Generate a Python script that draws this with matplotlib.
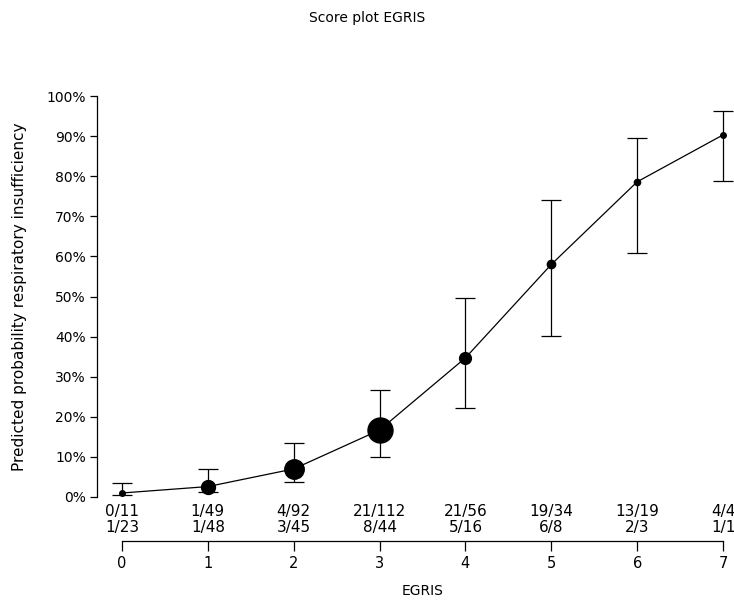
import numpy as np
import matplotlib
matplotlib.use("Agg")
from matplotlib import pyplot as plt

# Datos
egris = [0, 1, 2, 3, 4, 5, 6, 7]
prob = [0.010, 0.026, 0.070, 0.167, 0.347, 0.580, 0.786, 0.903]
ci_low = [0.004, 0.012, 0.037, 0.100, 0.222, 0.401, 0.608, 0.788]
ci_high = [0.035, 0.070, 0.135, 0.267, 0.496, 0.741, 0.895, 0.963]
cuentas_1 = ["0/11", "1/49", "4/92", "21/112", "21/56", "19/34", "13/19", "4/4"]
cuentas_2 = ["1/23", "1/48", "3/45", "8/44", "5/16", "6/8", "2/3", "1/1"]
tamanos = [4, 10, 14, 18, 8.5, 6, 4.5, 4]  # diametro del marcador (pt)

plt.rcParams['font.family'] = ['DejaVu Sans']
plt.rcParams['font.size'] = 10

fig = plt.figure(figsize=(7.34, 6.0), dpi=100)
W, H = 734, 600

# Ejes principales
ax = fig.add_axes([97 / W, (H - 497) / H, 633 / W, 401 / H])
x0 = -25 / 85.86
ax.set_xlim(x0, x0 + 633 / 85.86)
ax.set_ylim(0, 1)

err = [np.array(prob) - np.array(ci_low), np.array(ci_high) - np.array(prob)]
ax.errorbar(egris, prob, yerr=err, fmt='none', ecolor='black', elinewidth=0.9,
            capsize=7, capthick=0.9, clip_on=False)
ax.plot(egris, prob, color='black', linewidth=0.9, clip_on=False)
for xi, yi, s in zip(egris, prob, tamanos):
    ax.plot(xi, yi, 'o', color='black', markersize=s, clip_on=False)

for lado in ['top', 'right', 'bottom']:
    ax.spines[lado].set_visible(False)
ax.spines['left'].set_linewidth(0.9)
ax.set_yticks(np.arange(0, 1.01, 0.1))
ax.set_yticklabels([f"{int(round(v * 100))}%" for v in np.arange(0, 1.01, 0.1)])
ax.tick_params(axis='y', length=5, width=0.9, direction='out', pad=3, labelsize=10)
ax.set_xticks(egris)
ax.set_xticklabels([a + "\n" + b for a, b in zip(cuentas_1, cuentas_2)],
                   linespacing=1.1)
ax.tick_params(axis='x', length=0, pad=5, labelsize=11)
ax.set_ylabel("Predicted probability respiratory insufficiency", labelpad=14,
              fontsize=11)

# Eje de la escala EGRIS
ax2 = fig.add_axes([122 / W, (H - 541) / H, 601 / W, 0.001])
ax2.set_xlim(0, 7)
ax2.set_yticks([])
for lado in ['top', 'right', 'left']:
    ax2.spines[lado].set_visible(False)
ax2.spines['bottom'].set_linewidth(0.9)
ax2.set_xticks(egris)
ax2.tick_params(axis='x', length=7, width=0.9, direction='out', pad=4, labelsize=10.5)
ax2.set_xlabel("EGRIS", labelpad=9, fontsize=10)
ax2.patch.set_visible(False)

fig.suptitle("Score plot EGRIS", y=0.982, fontsize=10)

plt.savefig("out.png", dpi=100)
